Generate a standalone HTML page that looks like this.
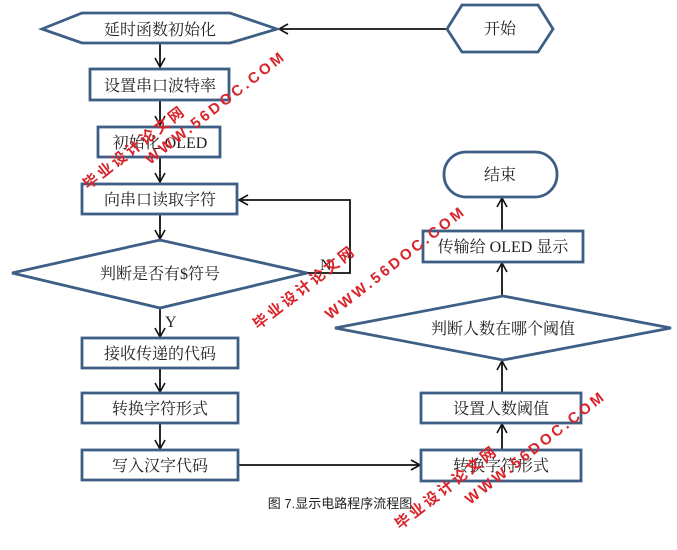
<!DOCTYPE html>
<html><head><meta charset="utf-8"><style>
body{margin:0;background:#fff;width:677px;height:550px;overflow:hidden}
svg{display:block}
text{font-family:"Liberation Serif","Noto Serif CJK SC",serif;font-size:16px;fill:#222}
.b{fill:#fff;stroke:#3d5f86;stroke-width:2.8}
.l{stroke:#111;stroke-width:1.8;fill:none}
.w{font-family:"Liberation Sans","Noto Sans CJK SC",sans-serif;font-weight:bold;fill:#d8242a;font-size:15px;letter-spacing:3px}
</style></head><body>
<svg width="677" height="550" viewBox="0 0 677 550">
<defs><marker id="a" markerWidth="12" markerHeight="12" refX="10" refY="6" orient="auto" markerUnits="userSpaceOnUse"><path d="M1,1 L10,6 L1,11" fill="none" stroke="#111" stroke-width="1.6"/></marker></defs>
<line class="l" x1="447" y1="29" x2="279" y2="29" marker-end="url(#a)"/>
<line class="l" x1="160" y1="44" x2="160" y2="67" marker-end="url(#a)"/>
<line class="l" x1="160" y1="101" x2="160" y2="125" marker-end="url(#a)"/>
<line class="l" x1="160" y1="157" x2="160" y2="182" marker-end="url(#a)"/>
<line class="l" x1="160" y1="214" x2="160" y2="239" marker-end="url(#a)"/>
<polyline class="l" points="306,273 350,273 350,200 239,200" marker-end="url(#a)"/>
<line class="l" x1="160" y1="308" x2="160" y2="337" marker-end="url(#a)"/>
<line class="l" x1="160" y1="369" x2="160" y2="392" marker-end="url(#a)"/>
<line class="l" x1="160" y1="424" x2="160" y2="449" marker-end="url(#a)"/>
<line class="l" x1="238" y1="465" x2="420" y2="465" marker-end="url(#a)"/>
<line class="l" x1="502" y1="449" x2="502" y2="424" marker-end="url(#a)"/>
<line class="l" x1="502" y1="392" x2="502" y2="361" marker-end="url(#a)"/>
<line class="l" x1="502" y1="296" x2="502" y2="263" marker-end="url(#a)"/>
<line class="l" x1="502" y1="230" x2="502" y2="198" marker-end="url(#a)"/>
<polygon class="b" points="42,29 82,13 230,13 277,29 230,43 82,43"/>
<text x="160" y="35" text-anchor="middle">延时函数初始化</text>
<polygon class="b" points="447,29 462,5 538,5 553,29 538,52 462,52"/>
<text x="500" y="34" text-anchor="middle">开始</text>
<rect class="b" x="90" y="69" width="139" height="31"/>
<text x="160" y="91" text-anchor="middle">设置串口波特率</text>
<rect class="b" x="98" y="127" width="122" height="30"/>
<text x="160" y="148" text-anchor="middle">初始化 OLED</text>
<rect class="b" x="82" y="184" width="155" height="30"/>
<text x="160" y="205" text-anchor="middle">向串口读取字符</text>
<polygon class="b" points="12,273 160,240 307,273 160,308"/>
<text x="160" y="279" text-anchor="middle">判断是否有$符号</text>
<text x="165" y="327">Y</text>
<text x="320" y="270">N</text>
<rect class="b" x="82" y="338" width="156" height="30"/>
<text x="160" y="359" text-anchor="middle">接收传递的代码</text>
<rect class="b" x="82" y="393" width="156" height="30"/>
<text x="160" y="414" text-anchor="middle">转换字符形式</text>
<rect class="b" x="82" y="450" width="156" height="30"/>
<text x="160" y="471" text-anchor="middle">写入汉字代码</text>
<rect class="b" x="421" y="450" width="160" height="31"/>
<text x="501" y="471" text-anchor="middle">转换字符形式</text>
<rect class="b" x="421" y="393" width="160" height="30"/>
<text x="501" y="414" text-anchor="middle">设置人数阈值</text>
<polygon class="b" points="335,328 503,296 671,328 503,360"/>
<text x="503" y="334" text-anchor="middle">判断人数在哪个阈值</text>
<rect class="b" x="423" y="231" width="160" height="31"/>
<text x="503" y="252" text-anchor="middle">传输给 OLED 显示</text>
<rect class="b" x="444" y="152" width="113" height="45" rx="22"/>
<text x="500" y="180" text-anchor="middle">结束</text>
<text x="340" y="508" text-anchor="middle" style="font-family:'Liberation Sans','Noto Sans CJK SC',sans-serif;font-size:13px">图 7.显示电路程序流程图</text>
<g>
<text class="w" transform="translate(150,165) rotate(-38)">WWW.56DOC.COM</text>
<text class="w" transform="translate(88,190) rotate(-38)">毕业设计论文网</text>
<text class="w" transform="translate(330,320) rotate(-38)">WWW.56DOC.COM</text>
<text class="w" transform="translate(258,330) rotate(-38)">毕业设计论文网</text>
<text class="w" transform="translate(470,505) rotate(-38)">WWW.56DOC.COM</text>
<text class="w" transform="translate(400,530) rotate(-38)">毕业设计论文网</text>
</g>
</svg>
</body></html>
